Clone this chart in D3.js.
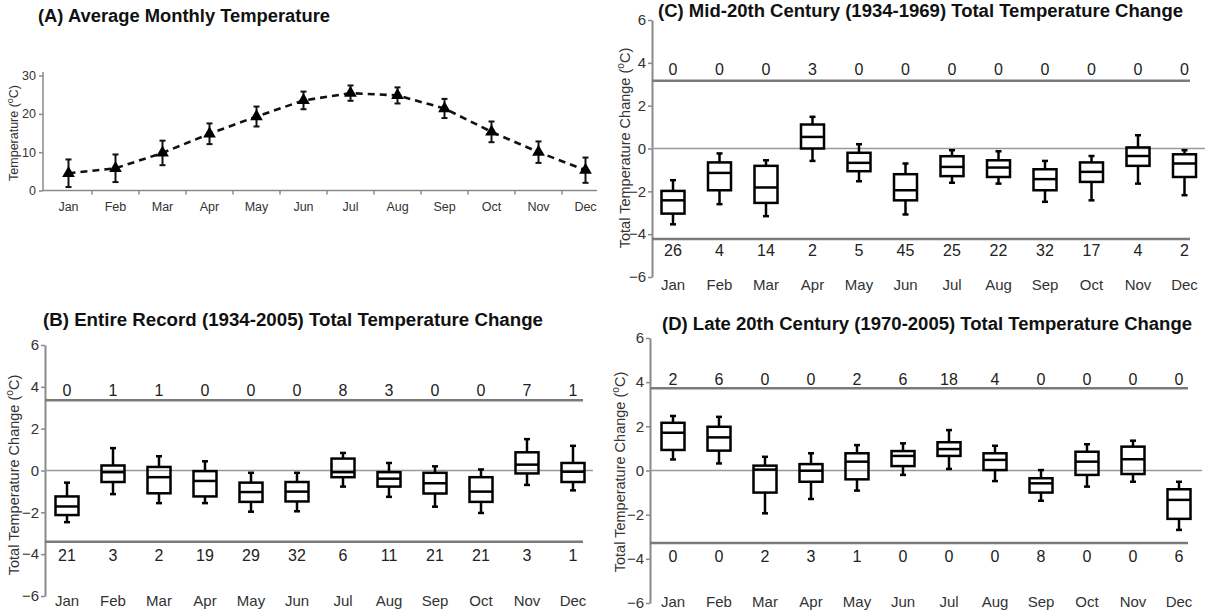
<!DOCTYPE html>
<html><head><meta charset="utf-8">
<script src="https://cdn.jsdelivr.net/npm/d3@7"></script>
<style>
body{margin:0;background:#fff;}
svg{display:block;font-family:"Liberation Sans",Arial,sans-serif;}
</style>
</head><body>
<svg id="c" width="1210" height="615"></svg>
<script>
// ---------- DATA ----------
const months = ["Jan","Feb","Mar","Apr","May","Jun","Jul","Aug","Sep","Oct","Nov","Dec"];

// Panel A: average monthly temperature (mean and error)
const tempMean = [4.5, 5.8, 9.8, 14.8, 19.3, 23.5, 25.4, 24.8, 21.4, 15.3, 10.0, 5.3];
const tempErr  = [3.6, 3.6, 3.2, 2.7, 2.6, 2.3, 2.0, 2.1, 2.5, 2.7, 2.8, 3.3];
const tempTicks = [0, 10, 20, 30];
const changeTicks = [-6, -4, -2, 0, 2, 4, 6];

// Panel B: Entire record (1934-2005)
const bHigh = [-0.58, 1.07, 0.68, 0.44, -0.11, -0.11, 0.84, 0.36, 0.20, 0.05, 1.50, 1.18];
const bQ3   = [-1.24, 0.24, 0.17, -0.03, -0.58, -0.55, 0.57, -0.08, -0.11, -0.32, 0.87, 0.36];
const bMed  = [-1.72, -0.08, -0.32, -0.50, -1.03, -1.01, -0.08, -0.39, -0.61, -1.01, 0.28, -0.06];
const bQ1   = [-2.13, -0.55, -1.09, -1.24, -1.50, -1.48, -0.32, -0.77, -1.10, -1.50, -0.14, -0.55];
const bLow  = [-2.47, -1.13, -1.56, -1.56, -1.97, -1.95, -0.77, -1.26, -1.73, -2.03, -0.69, -0.95];
const bAbove = [0, 1, 1, 0, 0, 0, 8, 3, 0, 0, 7, 1];
const bBelow = [21, 3, 2, 19, 29, 32, 6, 11, 21, 21, 3, 1];
const bLimits = [3.36, -3.41];

// Panel C: Mid-20th century (1934-1969)
const cHigh = [-1.48, -0.23, -0.55, 1.48, 0.20, -0.70, -0.08, -0.13, -0.58, -0.35, 0.62, -0.08];
const cQ3   = [-1.98, -0.65, -0.81, 1.12, -0.20, -1.20, -0.36, -0.55, -0.97, -0.65, 0.05, -0.27];
const cMed  = [-2.42, -1.14, -1.82, 0.54, -0.67, -1.95, -0.86, -0.89, -1.43, -1.09, -0.35, -0.70];
const cQ1   = [-3.04, -1.95, -2.54, 0.00, -1.06, -2.42, -1.29, -1.33, -1.95, -1.56, -0.81, -1.33];
const cLow  = [-3.54, -2.60, -3.16, -0.58, -1.53, -3.08, -1.60, -1.64, -2.49, -2.42, -1.64, -2.18];
const cAbove = [0, 0, 0, 3, 0, 0, 0, 0, 0, 0, 0, 0];
const cBelow = [26, 4, 14, 2, 5, 45, 25, 22, 32, 17, 4, 2];
const cLimits = [3.16, -4.22];

// Panel D: Late 20th century (1970-2005)
const dHigh = [2.47, 2.43, 0.62, 0.78, 1.15, 1.23, 1.83, 1.12, 0.02, 1.19, 1.35, -0.51];
const dQ3   = [2.16, 1.98, 0.22, 0.29, 0.78, 0.88, 1.28, 0.78, -0.35, 0.85, 1.08, -0.85];
const dMed  = [1.71, 1.50, 0.04, -0.01, 0.40, 0.66, 0.97, 0.48, -0.58, 0.40, 0.51, -1.33];
const dQ1   = [0.93, 0.90, -1.00, -0.51, -0.40, 0.20, 0.66, 0.02, -1.00, -0.20, -0.16, -2.19];
const dLow  = [0.50, 0.32, -1.94, -1.29, -0.91, -0.20, 0.07, -0.48, -1.37, -0.73, -0.51, -2.69];
const dAbove = [2, 6, 0, 0, 2, 6, 18, 4, 0, 0, 0, 0];
const dBelow = [0, 0, 2, 3, 1, 0, 0, 0, 8, 0, 0, 6];
const dLimits = [3.73, -3.28];

// ---------- DRAW ----------
const svg = d3.select("#c");
const AX = "#8a8a8a", TXT = "#333";

function yTitle(g, x, y, size, main) {
  const t = g.append("text")
    .attr("transform", `translate(${x},${y}) rotate(-90)`)
    .attr("text-anchor", "middle")
    .attr("fill", TXT).style("font-size", size + "px");
  t.append("tspan").text(main + " (");
  t.append("tspan").attr("dy", -size * 0.4).style("font-size", (size * 0.7) + "px").text("o");
  t.append("tspan").attr("dy", size * 0.4).text("C)");
}

function title(g, x, y, len, txt) {
  g.append("text").attr("x", x).attr("y", y)
    .style("font-size", "18px").style("font-weight", "bold").attr("fill", "#111")
    .attr("textLength", len).attr("lengthAdjust", "spacingAndGlyphs")
    .text(txt);
}

// ---- Panel A ----
(function () {
  const g = svg.append("g");
  const x = d3.scaleBand().domain(months).range([45, 609]);
  const y = d3.scaleLinear().domain([0, 30]).range([190.5, 75.5]);
  const cx = m => x(m) + x.bandwidth() / 2;

  title(g, 38, 22, 292, "(A) Average Monthly Temperature");

  const ya = g.append("g").attr("transform", "translate(43,0)")
    .call(d3.axisLeft(y).tickValues(tempTicks).tickSize(4).tickSizeOuter(0).tickPadding(3));
  ya.select(".domain").attr("d", `M0,72V${y(0)}`).attr("stroke", AX).attr("stroke-width", 1.5);
  ya.selectAll(".tick line").attr("stroke", AX).attr("stroke-width", 1.5);
  ya.selectAll("text").attr("fill", TXT).style("font-size", "12.5px").attr("font-family", null);

  const xa = g.append("g").attr("transform", `translate(0,${y(0)})`)
    .call(d3.axisBottom(x).tickSize(0).tickPadding(12));
  xa.select(".domain").attr("d", "M43,0H597").attr("stroke", AX).attr("stroke-width", 1.5);
  xa.selectAll("text").attr("fill", TXT).style("font-size", "12.5px").attr("font-family", null);
  g.selectAll(".xtick").data(months.slice(1)).join("line")
    .attr("x1", d => x(d)).attr("x2", d => x(d))
    .attr("y1", y(0)).attr("y2", y(0) + 4)
    .attr("stroke", AX).attr("stroke-width", 1.5);

  yTitle(g, 18, 133, 12.5, "Temperature");

  const pts = months.map((m, i) => ({ m, v: tempMean[i], e: tempErr[i] }));
  g.append("path").datum(pts)
    .attr("d", d3.line().x(d => cx(d.m)).y(d => y(d.v)))
    .attr("fill", "none").attr("stroke", "#111").attr("stroke-width", 2.6)
    .attr("stroke-dasharray", "7,5");
  const eb = g.selectAll(".eb").data(pts).join("g");
  eb.append("line").attr("x1", d => cx(d.m)).attr("x2", d => cx(d.m))
    .attr("y1", d => y(d.v + d.e)).attr("y2", d => y(d.v - d.e))
    .attr("stroke", "#111").attr("stroke-width", 2);
  [1, -1].forEach(s => {
    eb.append("line").attr("x1", d => cx(d.m) - 3).attr("x2", d => cx(d.m) + 3)
      .attr("y1", d => y(d.v + s * d.e)).attr("y2", d => y(d.v + s * d.e))
      .attr("stroke", "#111").attr("stroke-width", 2);
  });
  g.selectAll(".tri").data(pts).join("path")
    .attr("transform", d => `translate(${cx(d.m)},${y(d.v)})`)
    .attr("d", d3.symbol(d3.symbolTriangle, 70))
    .attr("fill", "#000");
})();

// ---- Box panels ----
function boxPanel(cfg, high, q3, med, q1, low, above, below, limits) {
  const g = svg.append("g");
  const x = d3.scaleBand().domain(months).range([cfg.x0, cfg.x0 + 12 * cfg.step]);
  const y = d3.scaleLinear().domain([-6, 6]).range([cfg.yB, cfg.yT]);
  const cx = m => x(m) + x.bandwidth() / 2;

  title(g, cfg.tx, cfg.ty, cfg.tl, cfg.title);

  const ya = g.append("g").attr("transform", `translate(${cfg.ax},0)`)
    .call(d3.axisLeft(y).tickValues(changeTicks).tickSize(4).tickSizeOuter(0).tickPadding(2));
  ya.select(".domain").attr("stroke", AX).attr("stroke-width", 2);
  ya.selectAll(".tick line").attr("stroke", AX).attr("stroke-width", 1.5);
  ya.selectAll("text").attr("fill", TXT).style("font-size", "15px").attr("font-family", null);

  yTitle(g, cfg.ytx, cfg.yty, 14.5, "Total Temperature Change");

  // zero line & limit lines
  g.append("line").attr("x1", cfg.ax).attr("x2", cfg.zEnd).attr("y1", y(0)).attr("y2", y(0))
    .attr("stroke", "#999").attr("stroke-width", 1.5);
  g.selectAll(".lim").data(limits).join("line")
    .attr("x1", cfg.ax).attr("x2", cfg.lEnd).attr("y1", d => y(d)).attr("y2", d => y(d))
    .attr("stroke", "#7a7a7a").attr("stroke-width", 2.5);

  // month labels
  const xa = g.append("g").attr("transform", `translate(0,${cfg.my})`)
    .call(d3.axisBottom(x).tickSize(0).tickPadding(0));
  xa.select(".domain").remove();
  xa.selectAll("text").attr("fill", TXT).style("font-size", "15px").attr("font-family", null)
    .attr("dy", "0.35em");

  // counts
  g.selectAll(".ca").data(above).join("text")
    .attr("x", (d, i) => cx(months[i])).attr("y", cfg.cTop)
    .attr("text-anchor", "middle").attr("dy", "0.35em").attr("fill", "#222")
    .style("font-size", "16px").text(d => d);
  g.selectAll(".cb").data(below).join("text")
    .attr("x", (d, i) => cx(months[i])).attr("y", cfg.cBot)
    .attr("text-anchor", "middle").attr("dy", "0.35em").attr("fill", "#222")
    .style("font-size", "16px").text(d => d);

  // boxes
  const rows = months.map((m, i) => ({ m, hi: high[i], q3: q3[i], md: med[i], q1: q1[i], lo: low[i] }));
  const bw = 23, cw = 6, sw = 2.5;
  const b = g.selectAll(".box").data(rows).join("g");
  b.append("line").attr("x1", d => cx(d.m)).attr("x2", d => cx(d.m))
    .attr("y1", d => y(d.hi)).attr("y2", d => y(d.q3)).attr("stroke", "#000").attr("stroke-width", sw);
  b.append("line").attr("x1", d => cx(d.m)).attr("x2", d => cx(d.m))
    .attr("y1", d => y(d.q1)).attr("y2", d => y(d.lo)).attr("stroke", "#000").attr("stroke-width", sw);
  b.append("line").attr("x1", d => cx(d.m) - cw / 2).attr("x2", d => cx(d.m) + cw / 2)
    .attr("y1", d => y(d.hi)).attr("y2", d => y(d.hi)).attr("stroke", "#000").attr("stroke-width", sw);
  b.append("line").attr("x1", d => cx(d.m) - cw / 2).attr("x2", d => cx(d.m) + cw / 2)
    .attr("y1", d => y(d.lo)).attr("y2", d => y(d.lo)).attr("stroke", "#000").attr("stroke-width", sw);
  b.append("rect").attr("x", d => cx(d.m) - bw / 2).attr("width", bw)
    .attr("y", d => y(d.q3)).attr("height", d => y(d.q1) - y(d.q3))
    .attr("fill", "none").attr("stroke", "#000").attr("stroke-width", sw);
  b.append("line").attr("x1", d => cx(d.m) - bw / 2).attr("x2", d => cx(d.m) + bw / 2)
    .attr("y1", d => y(d.md)).attr("y2", d => y(d.md)).attr("stroke", "#000").attr("stroke-width", sw);
}

boxPanel({ title: "(B) Entire Record (1934-2005) Total Temperature Change", tx: 43, ty: 326, tl: 500,
  x0: 44, step: 46, yT: 345, yB: 596, ax: 45, zEnd: 593, lEnd: 583,
  cTop: 390, cBot: 555, my: 601, ytx: 19, yty: 475 },
  bHigh, bQ3, bMed, bQ1, bLow, bAbove, bBelow, bLimits);

boxPanel({ title: "(C) Mid-20th Century (1934-1969) Total Temperature Change", tx: 658, ty: 17, tl: 525,
  x0: 649.75, step: 46.5, yT: 20, yB: 277, ax: 652, zEnd: 1205, lEnd: 1190,
  cTop: 69, cBot: 250, my: 285, ytx: 630, yty: 148 },
  cHigh, cQ3, cMed, cQ1, cLow, cAbove, cBelow, cLimits);

boxPanel({ title: "(D) Late 20th Century (1970-2005) Total Temperature Change", tx: 662, ty: 330, tl: 530,
  x0: 650, step: 46, yT: 338, yB: 603, ax: 650, zEnd: 1202, lEnd: 1188,
  cTop: 379, cBot: 556, my: 602, ytx: 625, yty: 472 },
  dHigh, dQ3, dMed, dQ1, dLow, dAbove, dBelow, dLimits);
</script>
</body></html>
